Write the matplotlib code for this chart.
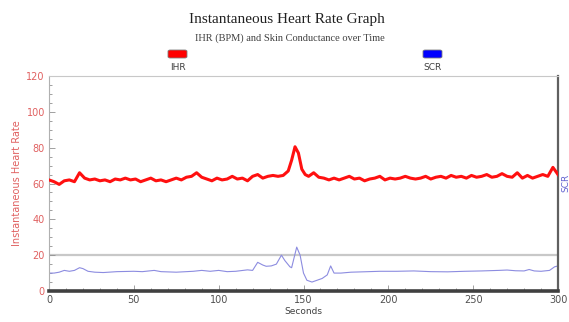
#!/usr/bin/env python
"""Instantaneous heart rate + skin conductance over time, one panel."""

import matplotlib

matplotlib.use("Agg")
import matplotlib.pyplot as plt  # noqa: E402
from matplotlib.patches import FancyBboxPatch  # noqa: E402
from matplotlib.ticker import MultipleLocator  # noqa: E402

# IHR (BPM)
IHR_T = [0, 3, 6, 9, 12, 15, 18, 21, 24, 27, 30, 33, 36, 39, 42, 45, 48, 51,
         54, 57, 60, 63, 66, 69, 72, 75, 78, 81, 84, 87, 90, 93, 96, 99, 102,
         105, 108, 111, 114, 117, 120, 123, 126, 129, 132, 135, 138, 141, 143,
         145, 147, 149, 151, 153, 156, 159, 162, 165, 168, 171, 174, 177, 180,
         183, 186, 189, 192, 195, 198, 201, 204, 207, 210, 213, 216, 219, 222,
         225, 228, 231, 234, 237, 240, 243, 246, 249, 252, 255, 258, 261, 264,
         267, 270, 273, 276, 279, 282, 285, 288, 291, 294, 297, 300]
IHR_V = [62, 61, 59.5, 61.5, 62, 61, 66, 63, 62, 62.5, 61.5, 62, 61, 62.5,
         62, 63, 62, 62.5, 61, 62, 63, 61.5, 62, 61, 62, 63, 62, 63.5, 64, 66,
         63.5, 62.5, 61.5, 63, 62, 62.5, 64, 62.5, 63, 61.5, 64, 65, 63, 64,
         64.5, 64, 64.5, 67, 73, 80.5, 77, 68, 65, 64, 66, 63.5, 63, 62, 63,
         62, 63, 64, 62.5, 63, 61.5, 62.5, 63, 64, 62, 63, 62.5, 63, 64, 63,
         62.5, 63, 64, 62.5, 63.5, 64, 63, 64.5, 63.5, 64, 63, 64.5, 63.5, 64,
         65, 63.5, 64, 65.5, 64, 63.5, 66, 63, 64.5, 63, 64, 65, 64, 69, 65]

# skin conductance, drawn on the same scale as it appears in the picture
SCR_T = [0, 3, 6, 9, 12, 15, 18, 20, 23, 27, 32, 40, 50, 55, 62, 66, 75, 85,
         90, 95, 100, 105, 110, 117, 120, 123, 126, 128, 131, 134, 137, 139,
         142, 143, 146, 148, 150, 152, 155, 158, 161, 164, 166, 168, 172, 178,
         185, 195, 205, 215, 225, 235, 245, 255, 265, 270, 275, 280, 283, 286,
         290, 295, 298, 300]
SCR_V = [10, 10, 10.5, 11.5, 11, 11.5, 13, 12.5, 11, 10.5, 10.3, 10.8, 11,
         10.8, 11.5, 10.8, 10.5, 11, 11.5, 11, 11.5, 10.8, 11, 11.8, 11.5, 16,
         14.5, 13.8, 14, 15, 20, 17, 13.5, 13, 24.5, 20, 10, 6, 5, 6, 7, 9, 14,
         10, 10, 10.5, 10.7, 11, 11, 11.2, 10.8, 10.7, 11, 11.2, 11.5, 11.7,
         11.3, 11.2, 12, 11.2, 11, 11.5, 13.5, 14]

TITLE = "Instantaneous Heart Rate Graph"
SUBTITLE = "IHR (BPM) and Skin Conductance over Time"
SERIES = ["IHR", "SCR"]
SERIES_COLORS = ["#ff0000", "#0000ff"]


def add_legend_key(fig, x, label, color):
    """Rounded colour chip with its label underneath, in figure coords."""
    w, h = 19 / 569, 8 / 322
    fig.patches.append(FancyBboxPatch(
        (x, 1 - 58 / 322), w, h, boxstyle="round,pad=0,rounding_size=0.004",
        transform=fig.transFigure, facecolor=color, edgecolor="#808080",
        linewidth=0.6))
    fig.text(x + w / 2, 1 - 67 / 322, label, ha="center", va="center",
             fontsize=6.5, color="#404040")


def main() -> None:
    fig = plt.figure(figsize=(5.69, 3.22), dpi=100)
    ax = fig.add_axes([49 / 569, 1 - 291 / 322, 509 / 569, 215 / 322])

    ax.axhline(20, color="#c8c8c8", linewidth=1.6, zorder=1)
    ax.plot(SCR_T, SCR_V, color="#8c8ce0", linewidth=0.8, zorder=2)
    ax.plot(IHR_T, IHR_V, color="#ff1010", linewidth=2.2, zorder=3)

    ax.set_xlim(0, 300)
    ax.set_ylim(0, 120)
    ax.xaxis.set_major_locator(MultipleLocator(50))
    ax.xaxis.set_minor_locator(MultipleLocator(10))
    ax.yaxis.set_major_locator(MultipleLocator(20))
    ax.yaxis.set_minor_locator(MultipleLocator(5))
    ax.tick_params(which="both", direction="in", color="#909090", width=0.6)
    ax.tick_params(which="major", length=4)
    ax.tick_params(which="minor", length=2.5)
    ax.tick_params(axis="x", labelsize=7, labelcolor="#505050", pad=3)
    ax.tick_params(axis="y", labelsize=7, labelcolor="#e06060", pad=3)

    ax.spines["left"].set_color("#b0b0b0")
    ax.spines["top"].set_color("#c8c8c8")
    ax.spines["right"].set_color("#606060")
    ax.spines["right"].set_linewidth(1.6)
    ax.spines["bottom"].set_color("#404040")
    ax.spines["bottom"].set_linewidth(2.6)

    ax.set_ylabel("Instantaneous Heart Rate", fontsize=7, color="#e06060",
                  labelpad=3)
    ax.set_xlabel("Seconds", fontsize=6.5, color="#404040", labelpad=1)

    fig.text(0.505, 1 - 20 / 322, TITLE, ha="center", va="center",
             fontsize=11, family="Liberation Serif", color="#202020")
    fig.text(0.51, 1 - 38 / 322, SUBTITLE, ha="center", va="center",
             fontsize=7.5, family="Liberation Serif", color="#404040")

    add_legend_key(fig, 168 / 569, SERIES[0], SERIES_COLORS[0])
    add_legend_key(fig, 423 / 569, SERIES[1], SERIES_COLORS[1])

    # secondary-axis label, cut off by the right edge in the source
    fig.text(566 / 569, 1 - 183 / 322, "SCR", rotation=90, ha="center",
             va="center", fontsize=6.5, color="#6060d0")

    fig.savefig("out.png", dpi=100)
    plt.close(fig)


if __name__ == "__main__":
    main()
